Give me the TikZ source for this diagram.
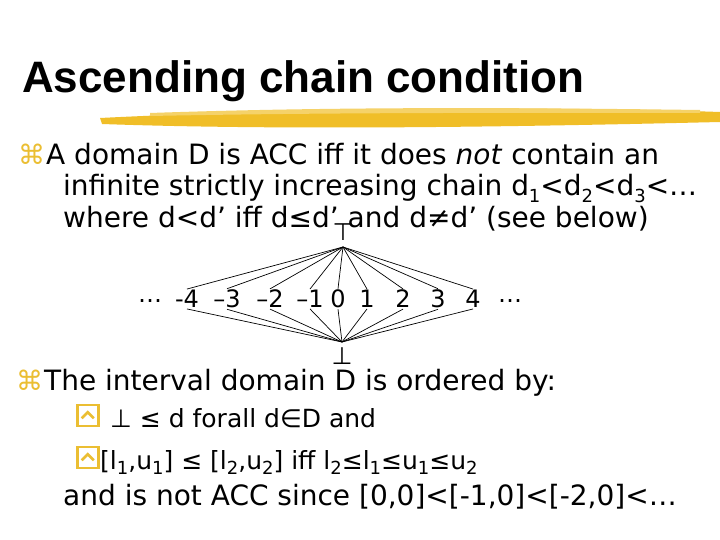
\documentclass[tikz,border=0pt]{standalone}
\usepackage{fontspec}
\setmainfont{DejaVu Sans}
\newfontfamily\titlefont{Liberation Sans}
\newcommand{\sbs}[1]{\raisebox{-0.22em}{\fontsize{18}{18}\selectfont #1}}
\definecolor{brush}{RGB}{240,190,40}
\definecolor{bul}{RGB}{235,190,50}
\begin{document}
\begin{tikzpicture}[x=1pt,y=-1pt,
  body/.style={anchor=base west,inner sep=0pt,font=\fontsize{28}{32}\selectfont},
  num/.style={inner sep=1pt,font=\fontsize{24}{26}\selectfont},
  edge/.style={line width=0.7pt},
  cmd/.style={anchor=base west,inner sep=0pt,text=bul,font=\fontsize{27}{28}\selectfont}]
\useasboundingbox (0,0) rectangle (720,540);
\fill[white] (0,0) rectangle (720,540);
% brush
\fill[brush] (100,118) .. controls (300,108) and (550,106) .. (720,112) -- (720,122) .. controls (550,126) and (300,131) .. (102,124) -- cycle;
\fill[brush!70] (150,113) .. controls (350,106) and (550,108) .. (700,110) -- (700,113) .. controls (550,113) and (350,112) .. (150,116) -- cycle;
\node[anchor=base west,inner sep=0pt,font=\titlefont\fontsize{44}{46}\selectfont\bfseries] (title) at (22,93) {Ascending chain condition};
\node[cmd] (b1) at (18,165) {⌘};
\node[body] (l1) at (46,165) {A domain D is ACC iff it does \textit{not} contain an};
\node[body] (l2) at (63,196) {infinite strictly increasing chain d\sbs{1}<d\sbs{2}<d\sbs{3}<…};
\node[body] (l3) at (63,227) {where d<d’ iff d≤d’ and d≠d’ (see below)};
% lattice
\node[num] (top) at (343,232) {⊤};
\coordinate (T) at (343,247);
\coordinate (B) at (342,342);
\node[num] (bot) at (342,356) {⊥};
\foreach \n/\x/\t in {m4/187/-4,m3/227/–3,m2/270/–2,m1/310/–1,z/338/0,p1/367/1,p2/403/2,p3/438/3,p4/473/4}{
  \node[num] (\n) at (\x,299) {\t};
  \draw[edge] (T) -- (\n.north);
  \draw[edge] (B) -- (\n.south);
}
\node[num] (dl) at (150,301) {…};
\node[num] (dr) at (510,301) {…};
\node[cmd] (b2) at (16,390) {⌘};
\node[body] (l4) at (44,390) {The interval domain D is ordered by:};
\foreach \y/\nm in {427/s1,469/s2}{
  \node[draw=bul,line width=2.5pt,minimum size=21pt,inner sep=0pt,anchor=south west] (\nm) at (76,\y) {};
  \draw[bul,line width=2.5pt] ([shift={(-6,3)}]\nm.center) -- ([shift={(0,-3)}]\nm.center) -- ([shift={(6,3)}]\nm.center);
}
\node[body,font=\fontsize{25}{28}\selectfont] (l5) at (110,427) {⊥ ≤ d forall d∈D and};
\node[body,font=\fontsize{25}{28}\selectfont] (l6) at (100,469) {[l\sbs{1},u\sbs{1}] ≤ [l\sbs{2},u\sbs{2}] iff l\sbs{2}≤l\sbs{1}≤u\sbs{1}≤u\sbs{2}};
\node[body] (l7) at (63,505) {and is not ACC since [0,0]<[-1,0]<[-2,0]<…};
\end{tikzpicture}
\end{document}
